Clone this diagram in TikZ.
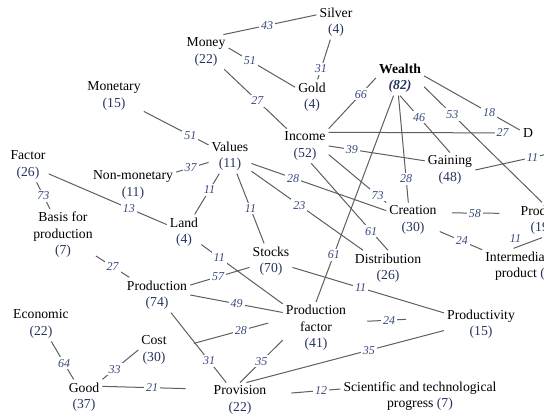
\documentclass[tikz,border=0pt]{standalone}
\usepackage{fontspec}
\setmainfont{Liberation Serif}
\usepackage{tikz}
\definecolor{countblue}{HTML}{27345C}
\definecolor{weightblue}{HTML}{384A7A}
\definecolor{linegray}{HTML}{5E5E5E}
\tikzstyle{concept} = [align=center, inner sep=3pt, font=\fontsize{13.7}{16.5}\selectfont]
\tikzstyle{link} = [draw=linegray, line width=1pt]
\tikzstyle{weight} = [fill=white, inner sep=2pt, text=weightblue, font=\fontsize{12}{12}\selectfont\itshape]
\newcommand{\cnum}[1]{{\color{countblue}(#1)}}

\begin{document}
\begin{tikzpicture}[x=1pt, y=-1pt]
        \useasboundingbox (0,0) rectangle (544,414);
        \clip (0,0) rectangle (544,414);
        \node (silver) [concept] at (336,22) {Silver\\\cnum{4}};
        \node (money) [concept] at (206,52) {Money\\\cnum{22}};
        \node (gold) [concept] at (312,97) {Gold\\\cnum{4}};
        \node (wealth) [concept] at (400,78) {\textbf{Wealth}\\\textbf{\textit{\cnum{82}}}};
        \node (monetary) [concept] at (114,96) {Monetary\\\cnum{15}};
        \node (values) [concept] at (230,156) {Values\\\cnum{11}};
        \node (income) [concept] at (305,146) {Income\\\cnum{52}};
        \node (dnode) [concept] at (528,133) {D};
        \node (gaining) [concept] at (450,170) {Gaining\\\cnum{48}};
        \node (factor) [concept] at (28,165) {Factor\\\cnum{26}};
        \node (nonmon) [concept] at (133,185) {Non-monetary\\\cnum{11}};
        \node (basis) [concept] at (63,235) {Basis for\\production\\\cnum{7}};
        \node (land) [concept] at (184,232) {Land\\\cnum{4}};
        \node (stocks) [concept] at (271,261) {Stocks\\\cnum{70}};
        \node (creation) [concept] at (413,220) {Creation\\\cnum{30}};
        \node (distribution) [concept] at (388,268) {Distribution\\\cnum{26}};
        \node (product) [concept] at (542,220) {Product\\\cnum{19}};
        \node (intermediate) [concept] at (520,266) {Intermediate\\product {\color{countblue}(}};
        \node (production) [concept] at (157,295) {Production\\\cnum{74}};
        \node (pfactor) [concept] at (316,328) {Production\\factor\\\cnum{41}};
        \node (productivity) [concept] at (481,324) {Productivity\\\cnum{15}};
        \node (economic) [concept] at (41,324) {Economic\\\cnum{22}};
        \node (cost) [concept] at (154,350) {Cost\\\cnum{30}};
        \node (good) [concept] at (84,397) {Good\\\cnum{37}};
        \node (provision) [concept] at (240,400) {Provision\\\cnum{22}};
        \node (science) [concept] at (420,396) {Scientific and technological\\progress \cnum{7}};
        \coordinate (gainout) at (557,152);

        \draw [link] (money.45) -- node[weight, pos=0.47] {43} (silver.160);
        \draw [link] (money.10) -- node[weight, pos=0.32] {51} (gold.150);
        \draw [link] (money) -- node[weight, pos=0.53] {27} (income);
        \draw [link] (silver) -- node[weight, pos=0.74] {31} (gold);
        \draw [link] (wealth.west) -- node[weight, pos=0.32] {66} (income.north east);
        \draw [link] (wealth.5) -- node[weight, pos=0.68] {18} (dnode.160);
        \draw [link] (wealth.-20) -- node[weight, pos=0.24] {53} (product.north);
        \draw [link] (wealth.south) -- node[weight, pos=0.38] {46} (gaining.north);
        \draw [link] (wealth.265) -- node[weight, pos=0.78] {28} (creation.105);
        \draw [link] (wealth.250) -- node[weight, pos=0.77] {61} (pfactor.north);
        \draw [link, shorten >=10pt] (income.30) -- node[weight, pos=0.91] {27} (dnode.west);
        \draw [link] (income.east) -- node[weight, pos=0.24] {39} (gaining.160);
        \draw [link] (income.-20) -- node[weight, pos=0.85] {73} (creation.north west);
        \draw [link] (income.-70) -- node[weight, pos=0.78] {61} (distribution.north);
        \draw [link] (monetary) -- node[weight, pos=0.72] {51} (values);
        \draw [link] (nonmon) -- node[weight, pos=0.45] {37} (values);
        \draw [link] (values) -- node[weight, pos=0.4] {11} (land);
        \draw [link] (values) -- node[weight, pos=0.5] {11} (stocks);
        \draw [link] (values) -- node[weight, pos=0.31] {28} (creation);
        \draw [link] (values) -- node[weight, pos=0.43] {23} (distribution);
        \draw [link] (factor) -- node[weight, pos=0.5] {73} (basis);
        \draw [link] (factor) -- node[weight, pos=0.68] {13} (land);
        \draw [link] (basis) -- node[weight, pos=0.5] {27} (production);
        \draw [link] (land) -- node[weight, pos=0.22] {11} (pfactor);
        \draw [link] (production) -- node[weight, pos=0.47] {57} (stocks);
        \draw [link] (stocks) -- node[weight, pos=0.45] {11} (productivity);
        \draw [link] (production.east) -- node[weight, pos=0.5] {49} (pfactor.155);
        \draw [link] (production) -- node[weight, pos=0.69] {31} (provision);
        \draw [link, shorten <=25pt, shorten >=15pt] (cost.east) -- node[weight, pos=0.63] {28} (pfactor.165);
        \draw [link, shorten <=18pt, shorten >=38pt] (pfactor.10) -- node[weight, pos=0.42] {24} (productivity.170);
        \draw [link] (pfactor.200) -- node[weight, pos=0.5] {35} (provision.north);
        \draw [link] (provision.70) -- node[weight, pos=0.62] {35} (productivity.190);
        \draw [link, shorten <=22pt] (provision.10) -- node[weight, pos=0.73] {12} (science.175);
        \draw [link, shorten >=25pt] (good.30) -- node[weight, pos=0.46] {21} (provision.160);
        \draw [link] (economic) -- node[weight, pos=0.58] {64} (good);
        \draw [link] (good.north east) -- node[weight, pos=0.34] {33} (cost.west);
        \draw [link] (gaining.east) -- node[weight, pos=0.7] {11} (gainout);
        \draw [link, shorten <=12pt, shorten >=18pt] (creation.15) -- node[weight, pos=0.45] {58} (product.165);
        \draw [link] (creation) -- node[weight, pos=0.52] {24} (intermediate);
        \draw [link] (intermediate.110) -- node[weight, pos=0.35, above left=0pt, fill=none] {11} (product.south);
    \end{tikzpicture}
\end{document}
